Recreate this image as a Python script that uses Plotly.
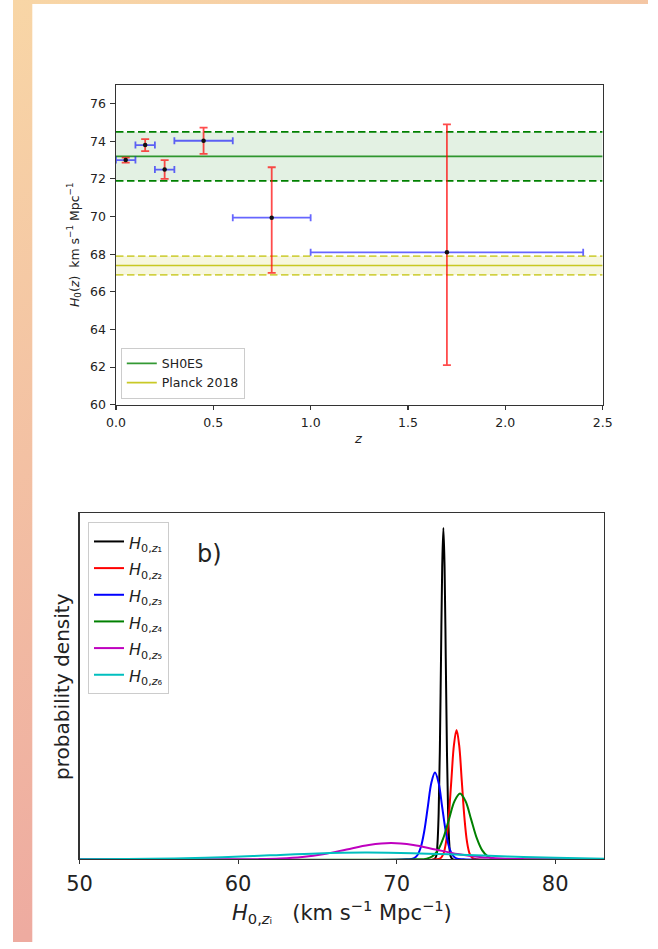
import base64
import plotly.graph_objects as go

# ---------------- data: panel a (H0 vs z) ----------------
z_vals = [0.05, 0.15, 0.25, 0.45, 0.80, 1.70]
z_err = [0.05, 0.05, 0.05, 0.15, 0.20, 0.70]
h0_vals = [73.0, 73.8, 72.5, 74.03, 69.94, 68.1]
h0_err_plus = [0.13, 0.32, 0.5, 0.7, 2.68, 6.8]
h0_err_minus = [0.13, 0.32, 0.5, 0.7, 2.93, 6.0]

shoes_mean, shoes_sig = 73.2, 1.3
planck_mean, planck_sig = 67.4, 0.5
z_span = [0.0, 2.5]

# ---------------- data: panel b (probability densities) ----------------
pdf_names = ["z₁", "z₂", "z₃", "z₄", "z₅", "z₆"]
pdf_colors = ["#000000", "#ff0000", "#0000ff", "#008000", "#bf00bf", "#00bfbf"]

pdf1_x = [50, 72.35, 72.5, 72.575, 72.65, 72.725, 72.8, 72.875, 72.95, 73.025, 73.1, 73.175, 73.25, 73.325, 73.4, 73.55, 83.1]
pdf1_y = [0, 0, 0.03, 0.13, 0.39, 0.93, 1.74, 2.53, 2.87, 2.53, 1.74, 0.93, 0.39, 0.13, 0.03, 0, 0]

pdf2_x = [50, 72.46, 72.79, 72.955, 73.12, 73.285, 73.45, 73.615, 73.78, 73.945, 74.11, 74.275, 74.44, 74.605, 74.77, 75.10, 83.1]
pdf2_y = [0, 0, 0.012, 0.049, 0.152, 0.364, 0.679, 0.988, 1.12, 0.988, 0.679, 0.364, 0.152, 0.049, 0.012, 0, 0]

pdf3_x = [50, 70.62, 71.07, 71.295, 71.52, 71.745, 71.97, 72.195, 72.42, 72.645, 72.87, 73.095, 73.32, 73.545, 73.77, 74.22, 83.1]
pdf3_y = [0, 0, 0.008, 0.033, 0.102, 0.245, 0.457, 0.665, 0.751, 0.665, 0.457, 0.245, 0.102, 0.033, 0.008, 0, 0]

pdf4_x = [50, 71.2, 71.9, 72.25, 72.6, 72.95, 73.3, 73.65, 74.0, 74.35, 74.7, 75.05, 75.4, 75.75, 76.1, 76.8, 83.1]
pdf4_y = [0, 0, 0.006, 0.025, 0.077, 0.185, 0.346, 0.503, 0.57, 0.503, 0.346, 0.185, 0.077, 0.025, 0.006, 0, 0]

pdf5_x = [50, 58.45, 61.25, 62.65, 64.05, 65.45, 66.85, 68.25, 69.65, 71.05, 72.45, 73.85, 75.25, 76.65, 78.05, 80.85, 83.1]
pdf5_y = [0, 0, 0.0016, 0.0062, 0.0191, 0.0458, 0.0855, 0.124, 0.141, 0.124, 0.0855, 0.0458, 0.0191, 0.0062, 0.0016, 0, 0]

pdf6_x = [50, 53, 56, 59, 62, 65, 68.0, 71, 74, 77, 80, 83.1]
pdf6_y = [0.0006, 0.0024, 0.0076, 0.0183, 0.0346, 0.0508, 0.058, 0.053, 0.0398, 0.0246, 0.0125, 0.005]

pdf_xs = [pdf1_x, pdf2_x, pdf3_x, pdf4_x, pdf5_x, pdf6_x]
pdf_ys = [pdf1_y, pdf2_y, pdf3_y, pdf4_y, pdf5_y, pdf6_y]

x_ticks_a = [0.0, 0.5, 1.0, 1.5, 2.0, 2.5]
y_ticks_a = [60, 62, 64, 66, 68, 70, 72, 74, 76]
x_ticks_b = [50, 60, 70, 80]

# ---------------- layout geometry (pixels -> paper) ----------------
W, H = 658, 949
FONT = "DejaVu Sans"
TXT = "#222222"
AX = "#333333"


def px(x):
    return x / W


def py(y):
    return 1 - y / H


fig = go.Figure()

# --- bands (panel a)
for mean, sig, col, fillc, name in [
    (shoes_mean, shoes_sig, "rgba(0,128,0,1)", "rgba(0,128,0,0.11)", "SH0ES"),
    (planck_mean, planck_sig, "rgba(191,191,0,1)", "rgba(191,191,0,0.13)", "Planck 2018"),
]:
    fig.add_trace(go.Scatter(x=z_span, y=[mean - sig] * 2, mode="lines",
                             line=dict(color="rgba(0,0,0,0)", width=0),
                             showlegend=False, hoverinfo="skip", xaxis="x", yaxis="y"))
    fig.add_trace(go.Scatter(x=z_span, y=[mean + sig] * 2, mode="lines", fill="tonexty",
                             fillcolor=fillc, line=dict(color="rgba(0,0,0,0)", width=0),
                             showlegend=False, hoverinfo="skip", xaxis="x", yaxis="y"))
    dash_col = col if name == "SH0ES" else "rgba(191,191,0,0.7)"
    for v in (mean - sig, mean + sig):
        fig.add_trace(go.Scatter(x=z_span, y=[v] * 2, mode="lines",
                                 line=dict(color=dash_col, width=1.8, dash="7.5px,3.5px"),
                                 showlegend=False, hoverinfo="skip", xaxis="x", yaxis="y"))
    solid_col = "rgba(0,128,0,0.8)" if name == "SH0ES" else "rgba(191,191,0,0.85)"
    fig.add_trace(go.Scatter(x=z_span, y=[mean] * 2, mode="lines", name=name,
                             line=dict(color=solid_col, width=1.6),
                             legend="legend", xaxis="x", yaxis="y"))

# --- data points with error bars
fig.add_trace(go.Scatter(
    x=z_vals, y=h0_vals, mode="markers", showlegend=False,
    marker=dict(color="#111111", size=4.5),
    error_x=dict(type="data", array=z_err, color="rgba(0,0,255,0.6)", thickness=1.8, width=3.5),
    error_y=dict(type="data", array=h0_err_plus, arrayminus=h0_err_minus, symmetric=False,
                 color="rgba(255,0,0,0.7)", thickness=1.8, width=4),
    xaxis="x", yaxis="y"))

# --- probability densities (panel b)
for nm, col, xs, ys in zip(pdf_names, pdf_colors, pdf_xs, pdf_ys):
    fig.add_trace(go.Scatter(
        x=xs, y=ys, mode="lines", line=dict(color=col, width=2, shape="spline"),
        name='<span style="font-size:16px"><i>H</i><sub>0,<i>' + nm[0] + "</i>" + nm[1] + "</sub></span>",
        legend="legend2", xaxis="x2", yaxis="y2"))

# --- background (gradient frame)
svg = (
    '<svg xmlns="http://www.w3.org/2000/svg" width="658" height="949" viewBox="0 0 658 949" preserveAspectRatio="none">'
    '<defs><linearGradient id="g" gradientUnits="userSpaceOnUse" x1="0" y1="0" x2="393" y2="741">'
    '<stop offset="0" stop-color="#f8d6a6"/><stop offset="1" stop-color="#eeaba0"/>'
    '</linearGradient></defs>'
    '<rect width="658" height="949" fill="url(#g)"/>'
    '<rect x="20" y="4" width="638" height="945" fill="#ffffff"/></svg>'
)
svg_uri = "data:image/svg+xml;base64," + base64.b64encode(svg.encode()).decode()

axis_common = dict(showline=True, mirror=True, linecolor=AX, linewidth=1.1, showgrid=False,
                   zeroline=False, ticks="outside", tickwidth=1.1, tickcolor=AX)

titles = [
    dict(text="<i>z</i>", x=px(358), y=py(442), textangle=0, size=13),
    dict(text="<i>H</i><sub>0</sub>(<i>z</i>)  km s<sup>−1</sup> Mpc<sup>−1</sup>",
         x=px(63.5), y=py(246.6), textangle=-90, size=12.5),
    dict(text="<i>H</i><sub>0,<i>z</i>ᵢ</sub>   (km s<sup>−1</sup> Mpc<sup>−1</sup>)",
         x=px(340.8), y=py(918.4), textangle=0, size=21),
    dict(text="probability density", x=px(50.6), y=py(691.2), textangle=-90, size=20),
    dict(text="b)", x=px(204), y=py(558), textangle=0, size=24),
]

fig.update_layout(
    width=W, height=H, autosize=False,
    margin=dict(l=0, r=0, t=0, b=0, pad=0),
    paper_bgcolor="white", plot_bgcolor="white",
    font=dict(family=FONT, color=TXT, size=12),
    images=[dict(source=svg_uri, xref="paper", yref="paper", x=0, y=1, sizex=1, sizey=1,
                 xanchor="left", yanchor="top", sizing="stretch", layer="below")],
    xaxis=dict(domain=[px(106.7), px(611)], range=[0, 2.5], anchor="y",
               tickvals=x_ticks_a, ticktext=[f"{v:.1f}" for v in x_ticks_a],
               tickfont=dict(size=12.5, color=TXT), ticklen=4.5, ticklabelstandoff=2,
               **axis_common),
    yaxis=dict(domain=[py(407.7), py(85.5)], range=[60, 77], anchor="x",
               tickvals=y_ticks_a, tickfont=dict(size=12.5, color=TXT), ticklen=4.5,
               ticklabelstandoff=2, **axis_common),
    xaxis2=dict(domain=[px(69), px(612.7)], range=[50, 83.1], anchor="y2",
                tickvals=x_ticks_b, tickfont=dict(size=21, color=TXT), ticklen=4,
                ticklabelstandoff=1, **axis_common),
    yaxis2=dict(domain=[py(865.7), py(516.7)], range=[0, 3.0], anchor="x2",
                showline=True, mirror=True, linecolor=AX, linewidth=1.1, showgrid=False,
                zeroline=False, ticks="", showticklabels=False),
    legend=dict(x=px(111.7), y=py(401.7), xanchor="left", yanchor="bottom",
                bgcolor="rgba(255,255,255,0.85)", bordercolor="#cccccc", borderwidth=1,
                font=dict(size=12.5, color=TXT), tracegroupgap=0, traceorder="normal"),
    legend2=dict(x=px(77.7), y=py(526), xanchor="left", yanchor="top",
                 bgcolor="rgba(255,255,255,0.85)", bordercolor="#cccccc", borderwidth=1,
                 font=dict(size=18.2, color=TXT), tracegroupgap=0, traceorder="normal"),
    annotations=[dict(text=t["text"], x=t["x"], y=t["y"], xref="paper", yref="paper",
                      showarrow=False, textangle=t["textangle"],
                      font=dict(size=t["size"], color=TXT, family=FONT),
                      xanchor="center", yanchor="middle") for t in titles],
)

fig.write_html("out.html", config={"staticPlot": True, "displayModeBar": False})
